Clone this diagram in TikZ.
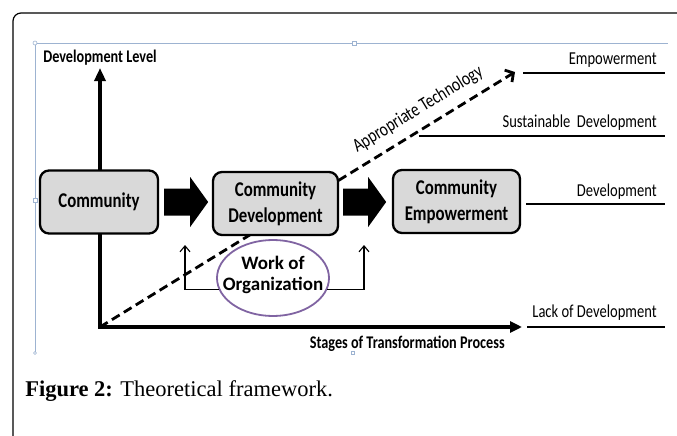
\documentclass[tikz,border=0pt]{standalone}
\usepackage{fontspec}
\setmainfont{Carlito}[FakeStretch=0.8]
\newfontfamily\orgfont{Carlito}
\newfontfamily\captionfont{Liberation Serif}
\usetikzlibrary{arrows.meta,shapes.geometric}

\definecolor{boxgray}{HTML}{D9D9D9}
\definecolor{orgpurple}{HTML}{8064A2}
\definecolor{handleblue}{HTML}{9DB3D1}

\begin{document}
\begin{tikzpicture}[x=1pt,y=-1pt,semithick]
	\tikzstyle{stage}=[draw,line width=2.3pt,rounded corners=9pt,fill=boxgray,
		minimum height=63pt,align=center,inner sep=0pt,
		font=\fontsize{21}{26}\selectfont\bfseries]
	\tikzstyle{level}=[anchor=base east,inner sep=0pt,font=\fontsize{18.2}{20}\selectfont]
	\tikzstyle{levelline}=[line width=1.4pt]
	\tikzstyle{axis}=[line width=3.6pt,{Triangle[length=13pt,width=11pt]}-{Triangle[length=12pt,width=11pt]}]
	\tikzstyle{feed}=[line width=1.1pt,-{Straight Barb[length=6pt,width=10pt]}]
	\tikzstyle{handle}=[draw=handleblue,fill=white,line width=0.6pt,inner sep=0pt,minimum size=4pt]

	\useasboundingbox (0,0) rectangle (677,436);

	% page frame and selection outline
	\draw[line width=1.2pt,rounded corners=8pt] (13,436) -- (13,13) -- (677,13);
	\draw[handleblue,line width=0.7pt] (35,353) -- (35,43) -- (668,43);
	\node[handle,circle] (h1) at (35,43) {};
	\node[handle] (h2) at (354,43) {};
	\node[handle] (h3) at (35,200) {};
	\node[handle,circle,minimum size=3pt] (h4) at (35,353) {};
	\node[handle,minimum size=3pt] (h5) at (353,353) {};

	% axes
	\coordinate (O) at (100,327);
	\draw[axis] (100,68) -- (O) -- (522,327);
	\node[anchor=base west,inner sep=0pt,font=\fontsize{17.8}{20}\selectfont\bfseries] (ylab) at (43,62.5) {Development Level};
	\node[anchor=base east,inner sep=0pt,font=\fontsize{17.8}{20}\selectfont\bfseries] (xlab) at (505,348) {Stages of Transformation Process};

	% levels
	\node[level] (lv1) at (657,65) {Empowerment};
	\node[level] (lv2) at (657,127.5) {Sustainable\ \ Development};
	\node[level] (lv3) at (657,196.5) {Development};
	\node[level] (lv4) at (657,317) {Lack of Development};
	\draw[levelline] (523,73) -- (665,73);
	\draw[levelline] (419,136) -- (665,136);
	\draw[levelline] (526,204) -- (665,204);
	\draw[levelline] (527,327) -- (665,327);

	% technology path
	\coordinate (tech) at (515,72);
	\draw[line width=2.8pt,dash pattern=on 9pt off 5pt,-{Straight Barb[length=6pt,width=14pt]}] (O) -- (tech)
		node[pos=0.79,sloped,above=9pt,inner sep=0pt,font=\fontsize{19.2}{20}\selectfont] (techlab) {Appropriate Technology};

	% stages
	\node[stage,minimum width=118pt] (comm) at (99,202) {Community};
	\node[stage,minimum width=125pt] (cdev) at (275.5,203.5) {Community\\Development};
	\node[stage,minimum width=127pt] (cemp) at (456.5,201.5) {Community\\Empowerment};

	\fill ([xshift=5pt]comm.east) ++(0,-13.5) -- ++(26,0) -- ++(0,-11.5) -- ++(18,25) -- ++(-18,25) -- ++(0,-11.5) -- ++(-26,0) -- cycle;
	\fill ([xshift=4pt,yshift=1.5pt]cdev.east) ++(0,-13.5) -- ++(25,0) -- ++(0,-11.5) -- ++(18,25) -- ++(-18,25) -- ++(0,-11.5) -- ++(-25,0) -- cycle;

	% organization
	\node[ellipse,draw=orgpurple,line width=1.8pt,minimum width=112pt,minimum height=76pt,inner sep=0pt,
		label={[align=center,inner sep=0pt,font=\orgfont\fontsize{19}{21}\selectfont\bfseries,yshift=3pt]center:Work of\\Organization}] (org) at (273,278) {};
	\coordinate (inL) at (185,245);
	\coordinate (inR) at (364,245);
	\draw[feed] (org.192) -| (inL);
	\draw[feed] (org.348) -| (inR);

	\node[anchor=base west,inner sep=0pt,font=\captionfont\fontsize{22.5}{26}\selectfont] (cap) at (25,396) {\textbf{Figure 2:} Theoretical framework.};
\end{tikzpicture}
\end{document}
